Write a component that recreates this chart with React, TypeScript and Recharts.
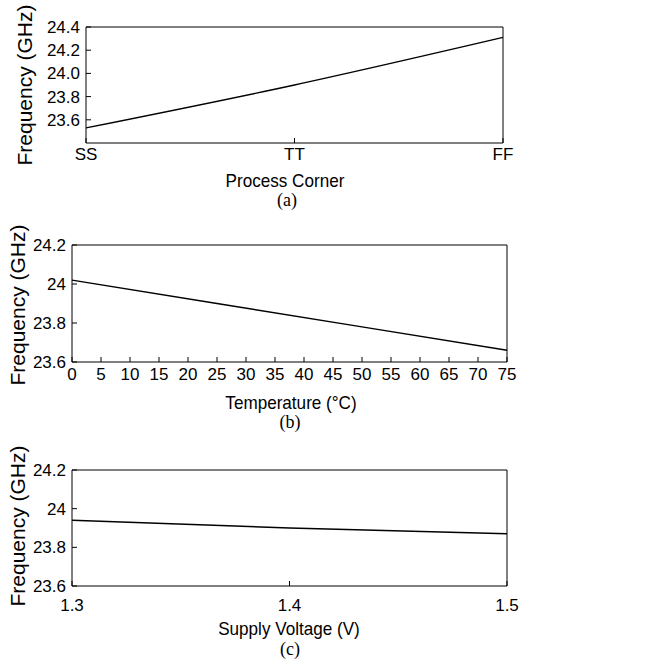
import React from 'react';
import { LineChart, Line, XAxis, YAxis } from 'recharts';

// (a) process corner sweep
const corners = ['SS', 'TT', 'FF'];
const cornerFreq = [23.53, 23.9, 24.31];
const cornerYTicks = [23.6, 23.8, 24.0, 24.2, 24.4];

// (b) temperature sweep
const temps = [0, 25, 50, 75];
const tempFreq = [24.02, 23.9, 23.78, 23.66];
const tempTicks = [0, 5, 10, 15, 20, 25, 30, 35, 40, 45, 50, 55, 60, 65, 70, 75];

// (c) supply voltage sweep
const voltages = [1.3, 1.4, 1.5];
const voltFreq = [23.94, 23.9, 23.87];
const voltTicks = [1.3, 1.4, 1.5];

const freqTicks = [23.6, 23.8, 24, 24.2];

const TICK_FONT = { fontFamily: '"Liberation Sans", Arial, sans-serif', fontSize: 17, fill: '#000' };

interface PanelProps {
  top: number;
  height: number;
  // plot box edges, in page pixels relative to the panel
  box: { top: number; right: number; bottom: number; left: number };
  data: { x: number | string; y: number }[];
  xType: 'number' | 'category';
  xDomain?: [number, number];
  xTicks?: (number | string)[];
  yDomain: [number, number];
  yTicks: number[];
  yFormat?: (v: number) => string;
  xTickMargin: number;
  curve: 'linear' | 'monotone';
}

const Panel = (props: PanelProps) => {
  const { top, height, box, data, xType, xDomain, xTicks, yDomain, yTicks, yFormat, xTickMargin, curve } = props;
  // axes are 1px thick, so margins leave room for them
  const margin = { top: box.top - 1, right: box.right - 1, bottom: box.bottom - 1, left: box.left - 1 };
  return (
    <div style={{ position: 'absolute', left: 0, top }}>
      <LineChart width={649} height={height} data={data} margin={margin}>
        <XAxis
          dataKey="x"
          type={xType}
          domain={xDomain}
          ticks={xTicks}
          interval={0}
          height={1}
          tickSize={-5}
          tickMargin={xTickMargin}
          stroke="#000"
          tick={TICK_FONT}
        />
        <XAxis
          xAxisId="top"
          orientation="top"
          dataKey="x"
          type={xType}
          domain={xDomain}
          ticks={xTicks}
          interval={0}
          height={1}
          tickSize={-5}
          stroke="#000"
          tick={false}
        />
        <YAxis
          type="number"
          domain={yDomain}
          ticks={yTicks}
          interval={0}
          width={1}
          tickSize={-5}
          tickMargin={11}
          stroke="#000"
          tick={TICK_FONT}
          tickFormatter={yFormat}
        />
        <YAxis
          yAxisId="right"
          orientation="right"
          type="number"
          domain={yDomain}
          ticks={yTicks}
          interval={0}
          width={1}
          tickSize={-5}
          stroke="#000"
          tick={false}
        />
        <Line
          type={curve}
          dataKey="y"
          stroke="#000"
          strokeWidth={1.4}
          dot={false}
          isAnimationActive={false}
        />
      </LineChart>
    </div>
  );
};

const YTitle = ({ cx, cy }: { cx: number; cy: number }) => (
  <div
    style={{
      position: 'absolute',
      left: cx,
      top: cy,
      transform: 'translate(-50%, -50%) rotate(-90deg)',
      whiteSpace: 'nowrap',
      fontFamily: '"Liberation Sans", Arial, sans-serif',
      fontSize: 21,
      lineHeight: 1,
    }}
  >
    Frequency (GHz)
  </div>
);

const XTitle = ({ cx, cy, text }: { cx: number; cy: number; text: string }) => (
  <div
    style={{
      position: 'absolute',
      left: cx,
      top: cy,
      transform: 'translate(-50%, -50%) scaleX(0.9)',
      whiteSpace: 'nowrap',
      fontFamily: '"Liberation Sans", Arial, sans-serif',
      fontSize: 19,
      lineHeight: 1,
    }}
  >
    {text}
  </div>
);

const Caption = ({ cx, cy, text }: { cx: number; cy: number; text: string }) => (
  <div
    style={{
      position: 'absolute',
      left: cx,
      top: cy,
      transform: 'translate(-50%, -50%)',
      whiteSpace: 'nowrap',
      fontFamily: '"Liberation Serif", "Times New Roman", serif',
      fontSize: 18,
      lineHeight: 1,
    }}
  >
    {text}
  </div>
);

export default function App() {
  const cornerData = corners.map((c, i) => ({ x: c, y: cornerFreq[i] }));
  const tempData = temps.map((t, i) => ({ x: t, y: tempFreq[i] }));
  const voltData = voltages.map((v, i) => ({ x: v, y: voltFreq[i] }));

  return (
    <div style={{ position: 'absolute', left: 0, top: 0, width: 649, height: 664, background: '#fff' }}>
      <Panel
        top={0}
        height={175}
        box={{ top: 27, right: 146, bottom: 32, left: 86 }}
        data={cornerData}
        xType="category"
        yDomain={[23.4, 24.4]}
        yTicks={cornerYTicks}
        yFormat={(v) => v.toFixed(1)}
        xTickMargin={10}
        curve="monotone"
      />
      <YTitle cx={24} cy={85} />
      <XTitle cx={285} cy={180} text="Process Corner" />
      <Caption cx={287} cy={200} text="(a)" />

      <Panel
        top={220}
        height={165}
        box={{ top: 25, right: 142, bottom: 23, left: 72 }}
        data={tempData}
        xType="number"
        xDomain={[0, 75]}
        xTicks={tempTicks}
        yDomain={[23.6, 24.2]}
        yTicks={freqTicks}
        xTickMargin={11}
        curve="linear"
      />
      <YTitle cx={17} cy={305} />
      <XTitle cx={291} cy={402} text="Temperature (°C)" />
      <Caption cx={290} cy={422} text="(b)" />

      <Panel
        top={440}
        height={185}
        box={{ top: 30, right: 142, bottom: 39, left: 72 }}
        data={voltData}
        xType="number"
        xDomain={[1.3, 1.5]}
        xTicks={voltTicks}
        yDomain={[23.6, 24.2]}
        yTicks={freqTicks}
        xTickMargin={18}
        curve="linear"
      />
      <YTitle cx={17} cy={526} />
      <XTitle cx={289} cy={628} text="Supply Voltage (V)" />
      <Caption cx={290} cy={649} text="(c)" />
    </div>
  );
}
